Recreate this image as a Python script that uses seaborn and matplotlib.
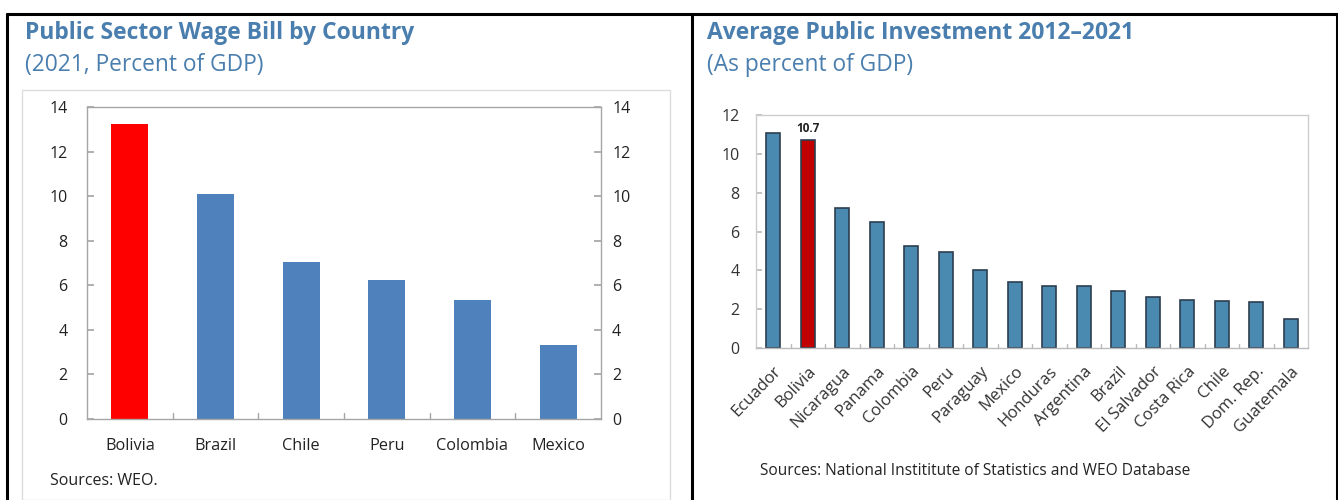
import matplotlib
matplotlib.use("Agg")
import matplotlib.pyplot as plt
import seaborn as sns
from matplotlib.lines import Line2D
from matplotlib.patches import Rectangle

# ---- data ----
wage_countries = ["Bolivia", "Brazil", "Chile", "Peru", "Colombia", "Mexico"]
wage_values = [13.25, 10.1, 7.05, 6.25, 5.35, 3.3]

inv_countries = ["Ecuador", "Bolivia", "Nicaragua", "Panama", "Colombia", "Peru",
                 "Paraguay", "Mexico", "Honduras", "Argentina", "Brazil",
                 "El Salvador", "Costa Rica", "Chile", "Dom. Rep.", "Guatemala"]
inv_values = [11.05, 10.7, 7.2, 6.5, 5.25, 4.95, 4.0, 3.4, 3.2, 3.2, 2.95,
              2.65, 2.45, 2.4, 2.35, 1.5]

left_yticks = [0, 2, 4, 6, 8, 10, 12, 14]
right_yticks = [0, 2, 4, 6, 8, 10, 12]

sns.set_theme(style="white")
plt.rcParams["font.family"] = ["Open Sans", "DejaVu Sans"]

W, H = 1338, 500
fig = plt.figure(figsize=(W / 100, H / 100), dpi=100)

def fx(px):
    return px / W

def fy(py):
    return 1 - py / H

TITLE_C = "#4a7eae"

# ---- outer frame ----
for (x0, y0, x1, y1) in [(7, 14, 1338, 14), (7, 14, 7, 500), (692, 14, 692, 500), (1337, 14, 1337, 500)]:
    fig.add_artist(Line2D([fx(x0), fx(x1)], [fy(y0), fy(y1)], color="black", lw=2.2,
                          transform=fig.transFigure))
fig.add_artist(Rectangle((fx(22), fy(500)), fx(670) - fx(22), fy(90) - fy(500),
                         fill=False, ec="#dddddd", lw=1, transform=fig.transFigure))

# ---- titles ----
fig.text(fx(25), fy(33), "Public Sector Wage Bill by Country", color=TITLE_C,
         fontsize=16.5, fontweight="bold", va="center", ha="left")
fig.text(fx(25), fy(65), "(2021, Percent of GDP)", color=TITLE_C,
         fontsize=16.4, va="center", ha="left")
fig.text(fx(707), fy(33), "Average Public Investment 2012\u20132021", color=TITLE_C,
         fontsize=16.5, fontweight="bold", va="center", ha="left")
fig.text(fx(707), fy(65), "(As percent of GDP)", color=TITLE_C,
         fontsize=16.4, va="center", ha="left")

# ---- left chart ----
axL = fig.add_axes([fx(87), fy(419), fx(601) - fx(87), fy(107) - fy(419)])
left_colors = ["#ff0000"] + ["#4f81bd"] * (len(wage_countries) - 1)
sns.barplot(x=wage_countries, y=wage_values, hue=wage_countries, palette=left_colors,
            width=0.43, legend=False, ax=axL, saturation=1, linewidth=0)
axL.set_ylim(0, 14)
axL.set_xlim(-0.5, len(wage_countries) - 0.5)
axL.set_yticks(left_yticks)
axL.set_yticklabels([str(v) for v in left_yticks], fontsize=11.5, color="#222222")
axL.tick_params(axis="y", which="both", left=True, direction="in", length=5,
                color="#a6a6a6", pad=14)
axL.tick_params(axis="x", bottom=False, labelsize=11.7, labelcolor="#222222", pad=8)
for sp in axL.spines.values():
    sp.set_color("#a6a6a6")
    sp.set_linewidth(1)
axL.set_xticks(range(len(wage_countries)))
for i in range(1, len(wage_countries)):
    axL.plot([i - 0.5, i - 0.5], [0, 0.25], color="#a6a6a6", lw=1, clip_on=False)
axL2 = axL.twinx()
axL2.set_ylim(0, 14)
axL2.set_yticks(left_yticks)
axL2.set_yticklabels([str(v) for v in left_yticks], fontsize=11.5, color="#222222")
axL2.tick_params(axis="y", right=True, direction="in", length=5, color="#a6a6a6", pad=8)
for sp in axL2.spines.values():
    sp.set_visible(False)
axL.set_xlabel("")
axL.set_ylabel("")
fig.text(fx(50), fy(481), "Sources: WEO.", fontsize=11.5, color="#222222", va="center")

# ---- right chart ----
axR = fig.add_axes([fx(756), fy(348), fx(1308) - fx(756), fy(115) - fy(348)])
right_colors = ["#4a8ab0", "#c00000"] + ["#4a8ab0"] * (len(inv_countries) - 2)
sns.barplot(x=inv_countries, y=inv_values, hue=inv_countries, palette=right_colors,
            width=0.42, legend=False, ax=axR, saturation=1, linewidth=1.2,
            edgecolor="#2c3e50")
axR.set_ylim(0, 12)
axR.set_xlim(-0.5, len(inv_countries) - 0.5)
axR.set_yticks(right_yticks)
axR.set_yticklabels([str(v) for v in right_yticks], fontsize=11.5, color="#333333")
axR.tick_params(axis="y", left=True, direction="in", length=4, color="#bbbbbb", pad=12)
axR.set_xticks(range(len(inv_countries)))
axR.set_xticklabels(inv_countries, rotation=46, ha="right", rotation_mode="anchor",
                    fontsize=12, color="#333333")
axR.tick_params(axis="x", bottom=False, pad=5)
for sp in axR.spines.values():
    sp.set_color("#cccccc")
    sp.set_linewidth(1)
axR.spines["bottom"].set_color("#bbbbbb")
for i in range(1, len(inv_countries)):
    axR.plot([i - 0.5, i - 0.5], [0, 0.2], color="#bbbbbb", lw=1, clip_on=False)
axR.set_xlabel("")
axR.set_ylabel("")
axR.text(1, inv_values[1] + 0.25, f"{inv_values[1]:.1f}", ha="center", va="bottom",
         fontsize=8.5, fontweight="bold", color="#222222")
fig.text(fx(760), fy(471), "Sources: National Instititute of Statistics and WEO Database",
         fontsize=11.2, color="#222222", va="center")

fig.savefig("out.png", dpi=100)
